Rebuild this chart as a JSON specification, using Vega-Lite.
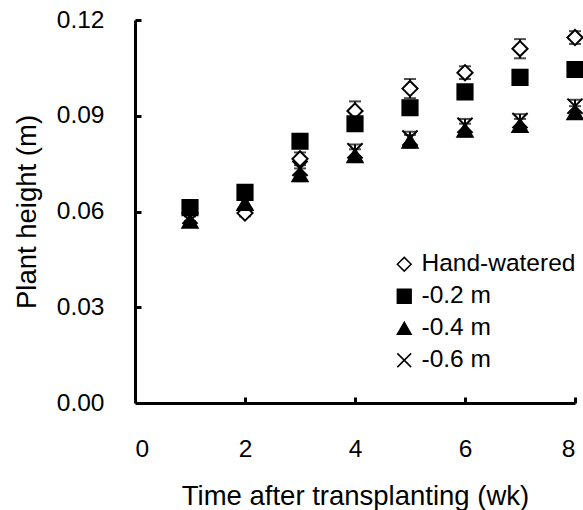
{
  "$schema": "https://vega.github.io/schema/vega-lite/v6.json",
  "width": 440,
  "height": 383,
  "autosize": {"type": "none"},
  "padding": {"left": 135, "top": 20, "right": 8, "bottom": 107},
  "background": "white",
  "config": {
    "view": {"stroke": null},
    "font": "Liberation Sans",
    "axis": {
      "grid": false,
      "domainColor": "black",
      "domainWidth": 3,
      "tickColor": "black",
      "tickWidth": 3,
      "labelFont": "Liberation Sans",
      "labelFontSize": 24.5,
      "labelColor": "black",
      "titleFont": "Liberation Sans",
      "titleFontSize": 27.5,
      "titleFontWeight": "normal",
      "titleColor": "black"
    }
  },
  "data": {
    "values": [
      {"week": 1, "treatment": "Hand-watered", "height": 0.0595, "err": 0.001},
      {"week": 2, "treatment": "Hand-watered", "height": 0.0595, "err": 0.001},
      {"week": 3, "treatment": "Hand-watered", "height": 0.0765, "err": 0.002},
      {"week": 4, "treatment": "Hand-watered", "height": 0.0915, "err": 0.003},
      {"week": 5, "treatment": "Hand-watered", "height": 0.0985, "err": 0.003},
      {"week": 6, "treatment": "Hand-watered", "height": 0.1035, "err": 0.002},
      {"week": 7, "treatment": "Hand-watered", "height": 0.1110, "err": 0.003},
      {"week": 8, "treatment": "Hand-watered", "height": 0.1145, "err": 0.002},
      {"week": 1, "treatment": "-0.2 m", "height": 0.0612, "err": 0.0015},
      {"week": 2, "treatment": "-0.2 m", "height": 0.0660, "err": 0.0015},
      {"week": 3, "treatment": "-0.2 m", "height": 0.0820, "err": 0.0015},
      {"week": 4, "treatment": "-0.2 m", "height": 0.0875, "err": 0.0015},
      {"week": 5, "treatment": "-0.2 m", "height": 0.0925, "err": 0.0015},
      {"week": 6, "treatment": "-0.2 m", "height": 0.0975, "err": 0.0015},
      {"week": 7, "treatment": "-0.2 m", "height": 0.1020, "err": 0.0015},
      {"week": 8, "treatment": "-0.2 m", "height": 0.1045, "err": 0.0015},
      {"week": 1, "treatment": "-0.4 m", "height": 0.0570, "err": 0.0015},
      {"week": 2, "treatment": "-0.4 m", "height": 0.0625, "err": 0.0015},
      {"week": 3, "treatment": "-0.4 m", "height": 0.0715, "err": 0.002},
      {"week": 4, "treatment": "-0.4 m", "height": 0.0775, "err": 0.002},
      {"week": 5, "treatment": "-0.4 m", "height": 0.0820, "err": 0.002},
      {"week": 6, "treatment": "-0.4 m", "height": 0.0855, "err": 0.002},
      {"week": 7, "treatment": "-0.4 m", "height": 0.0870, "err": 0.002},
      {"week": 8, "treatment": "-0.4 m", "height": 0.0910, "err": 0.002},
      {"week": 1, "treatment": "-0.6 m", "height": 0.0585, "err": 0.0015},
      {"week": 2, "treatment": "-0.6 m", "height": 0.0630, "err": 0.0015},
      {"week": 3, "treatment": "-0.6 m", "height": 0.0735, "err": 0.002},
      {"week": 4, "treatment": "-0.6 m", "height": 0.0790, "err": 0.002},
      {"week": 5, "treatment": "-0.6 m", "height": 0.0830, "err": 0.002},
      {"week": 6, "treatment": "-0.6 m", "height": 0.0870, "err": 0.002},
      {"week": 7, "treatment": "-0.6 m", "height": 0.0885, "err": 0.002},
      {"week": 8, "treatment": "-0.6 m", "height": 0.0930, "err": 0.002}
    ]
  },
  "resolve": {"axis": {"x": "independent", "y": "independent"}},
  "layer": [
    {
      "mark": {"type": "errorbar", "ticks": {"size": 12, "thickness": 2, "color": "black"}, "rule": {"strokeWidth": 2, "color": "black"}},
      "encoding": {
        "x": {
          "field": "week", "type": "quantitative",
          "scale": {"domain": [0, 8], "nice": false},
          "axis": {"orient": "bottom", "values": [0, 2, 4, 6, 8], "ticks": false, "title": "Time after transplanting (wk)", "labelPadding": 34, "titlePadding": 22}
        },
        "y": {
          "field": "height", "type": "quantitative",
          "scale": {"domain": [0, 0.12], "nice": false},
          "axis": {"orient": "left", "values": [0, 0.03, 0.06, 0.09, 0.12], "format": ".2f", "ticks": false, "title": "Plant height (m)", "labelPadding": 31, "titlePadding": 15}
        },
        "yError": {"field": "err"}
      }
    },
    {
      "mark": {"type": "point", "filled": true, "stroke": "black", "strokeWidth": 2, "size": 230, "opacity": 1},
      "encoding": {
        "x": {
          "field": "week", "type": "quantitative",
          "axis": {"orient": "bottom", "values": [2, 4, 6, 8], "offset": -6, "ticks": true, "tickSize": 6, "tickColor": "black", "domain": false, "labels": false, "title": null}
        },
        "y": {
          "field": "height", "type": "quantitative",
          "axis": {"orient": "left", "values": [0.03, 0.06, 0.09, 0.12], "offset": -6, "ticks": true, "tickSize": 6, "tickColor": "black", "domain": false, "labels": false, "title": null}
        },
        "shape": {
          "field": "treatment", "type": "nominal",
          "scale": {
            "domain": ["Hand-watered", "-0.2 m", "-0.4 m", "-0.6 m"],
            "range": ["diamond", "square", "triangle-up", "M-1,-1L1,1M-1,1L1,-1"]
          },
          "legend": {
            "title": null, "orient": "none", "legendX": 257, "legendY": 232,
            "padding": 0, "labelFont": "Liberation Sans", "labelFontSize": 24.5, "labelColor": "black",
            "symbolSize": 190, "rowPadding": 7, "labelOffset": 5,
            "encode": {"symbols": {"update": {"stroke": {"value": "black"}, "strokeWidth": {"value": 2.5}}}}
          }
        },
        "fill": {
          "field": "treatment", "type": "nominal",
          "scale": {
            "domain": ["Hand-watered", "-0.2 m", "-0.4 m", "-0.6 m"],
            "range": ["white", "black", "black", "transparent"]
          },
          "legend": {
            "title": null, "orient": "none", "legendX": 257, "legendY": 232,
            "padding": 0, "labelFont": "Liberation Sans", "labelFontSize": 24.5, "labelColor": "black",
            "symbolSize": 190, "rowPadding": 7, "labelOffset": 5,
            "encode": {"symbols": {"update": {"stroke": {"value": "black"}, "strokeWidth": {"value": 2.5}}}}
          }
        }
      }
    }
  ]
}
